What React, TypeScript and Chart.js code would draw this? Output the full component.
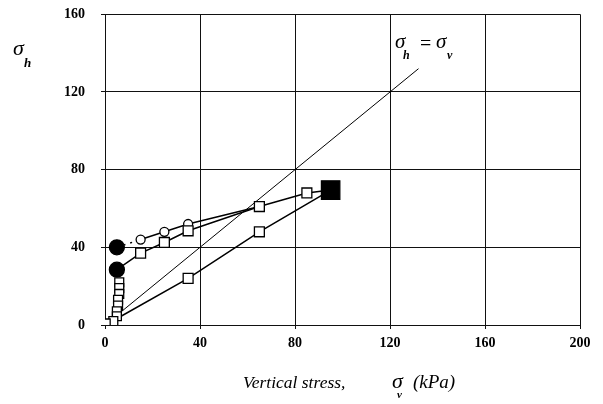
import React, { useEffect, useRef } from "react";
import { Chart, registerables } from "chart.js";

Chart.register(...registerables);

// ---- data ----
const xTicks = [0, 40, 80, 120, 160, 200];
const yTicks = [0, 40, 80, 120, 160];

const seriesAX = [5, 15, 25, 35, 65];
const seriesAY = [40, 44, 48, 52, 61];

const seriesBX = [5, 15, 25, 35, 65, 85, 95];
const seriesBY = [28.5, 37, 42.5, 48.5, 61, 68, 69.5];

const seriesCX = [6, 35, 65, 95];
const seriesCY = [4, 24, 48, 69.5];

const stackX = [6, 6, 6, 5.5, 5.5, 5, 5, 3.5, 0.3];
const stackY = [22, 19, 16, 13, 10, 7, 4.5, 2, 0.8];

const equalLineX = [6, 132];
const equalLineY = [6, 132];

const FONT = "'Liberation Serif', 'DejaVu Serif', serif";

const pts = (xs: number[], ys: number[]) => xs.map((x, i) => ({ x, y: ys[i] }));

type Seg = { t: string; font: string; x: number; y: number };

const textPlugin = {
  id: "richText",
  afterDraw(chart: any) {
    const ctx = chart.ctx;
    const segs: Seg[] = [
      // y-axis title
      { t: "σ", font: `italic 22px ${FONT}`, x: 13, y: 55 },
      { t: "h", font: `italic bold 13px ${FONT}`, x: 24, y: 67 },
      // annotation
      { t: "σ", font: `italic 21px ${FONT}`, x: 395, y: 48 },
      { t: "h", font: `italic bold 12px ${FONT}`, x: 403, y: 59 },
      { t: "=", font: `20px ${FONT}`, x: 420, y: 50 },
      { t: "σ", font: `italic 21px ${FONT}`, x: 436, y: 48 },
      { t: "v", font: `italic bold 12px ${FONT}`, x: 447, y: 59 },
      // x-axis title
      { t: "Vertical stress,", font: `italic 17.5px ${FONT}`, x: 243, y: 388 },
      { t: "σ", font: `italic 22px ${FONT}`, x: 392, y: 388 },
      { t: "v", font: `italic bold 11px ${FONT}`, x: 397, y: 398 },
      { t: "(kPa)", font: `italic 19px ${FONT}`, x: 413, y: 388 },
    ];
    ctx.save();
    ctx.fillStyle = "#000";
    ctx.textAlign = "left";
    ctx.textBaseline = "alphabetic";
    for (const s of segs) {
      ctx.font = s.font;
      ctx.fillText(s.t, s.x, s.y);
    }
    ctx.restore();
  },
};

export default function App() {
  const ref = useRef<HTMLCanvasElement | null>(null);

  useEffect(() => {
    if (!ref.current) return;
    const chart = new Chart(ref.current, {
      type: "scatter",
      data: {
        datasets: [
          {
            label: "stack",
            data: pts(stackX, stackY),
            showLine: false,
            pointStyle: "rect",
            pointRadius: 6.3,
            pointBackgroundColor: "#fff",
            pointBorderColor: "#000",
            pointBorderWidth: 1.3,
          },
          {
            label: "B",
            data: pts(seriesBX, seriesBY),
            showLine: true,
            borderColor: "#000",
            borderWidth: 1.5,
            pointStyle: ["circle", "rect", "rect", "rect", "rect", "rect", "rect"],
            pointRadius: [7.5, 7, 7, 7, 7, 7, 13],
            pointBackgroundColor: ["#000", "#fff", "#fff", "#fff", "#fff", "#fff", "#000"],
            pointBorderColor: "#000",
            pointBorderWidth: 1.3,
          },
          {
            label: "A",
            data: pts(seriesAX, seriesAY),
            showLine: true,
            borderColor: "#000",
            borderWidth: 1.5,
            segment: {
              borderDash: (c: any) => (c.p0DataIndex === 0 ? [2, 5] : undefined),
            },
            pointStyle: "circle",
            pointRadius: [7.5, 4.5, 4.5, 4.5, 0],
            pointBackgroundColor: ["#000", "#fff", "#fff", "#fff", "#fff"],
            pointBorderColor: "#000",
            pointBorderWidth: 1.3,
          },
          {
            label: "C",
            data: pts(seriesCX, seriesCY),
            showLine: true,
            borderColor: "#000",
            borderWidth: 1.5,
            pointStyle: "rect",
            pointRadius: [0, 7, 7, 0],
            pointBackgroundColor: "#fff",
            pointBorderColor: "#000",
            pointBorderWidth: 1.3,
          },
          {
            label: "equal",
            data: pts(equalLineX, equalLineY),
            showLine: true,
            borderColor: "#000",
            borderWidth: 1,
            pointRadius: 0,
          },
        ],
      },
      options: {
        responsive: false,
        animation: false,
        layout: { padding: { left: 0, right: 23, top: 13, bottom: 0 } },
        plugins: {
          legend: { display: false },
          tooltip: { enabled: false },
          title: { display: false },
        },
        scales: {
          x: {
            type: "linear",
            min: 0,
            max: 200,
            afterFit: (s: any) => {
              s.height = 79;
              s.paddingLeft = 0;
              s.paddingRight = 0;
            },
            afterBuildTicks: (s: any) => {
              s.ticks = xTicks.map((v) => ({ value: v }));
            },
            ticks: {
              color: "#000",
              padding: 6,
              font: { family: FONT, size: 14, weight: "bold" },
              maxRotation: 0,
            },
            grid: { color: "#111", lineWidth: 1, tickLength: 4, drawTicks: true },
            border: { color: "#111", width: 1 },
          },
          y: {
            type: "linear",
            min: 0,
            max: 160,
            afterFit: (s: any) => {
              s.width = 105;
              s.paddingTop = 0;
              s.paddingBottom = 0;
            },
            afterBuildTicks: (s: any) => {
              s.ticks = yTicks.map((v) => ({ value: v }));
            },
            ticks: {
              color: "#000",
              padding: 16,
              font: { family: FONT, size: 14, weight: "bold" },
            },
            grid: { color: "#111", lineWidth: 1, tickLength: 4, drawTicks: true },
            border: { color: "#111", width: 1 },
          },
        },
      },
      plugins: [textPlugin],
    });
    return () => chart.destroy();
  }, []);

  return (
    <div style={{ position: "absolute", left: 0, top: 0, width: 603, height: 404, background: "#fff" }}>
      <canvas ref={ref} width={603} height={404} style={{ display: "block", width: 603, height: 404 }} />
    </div>
  );
}
